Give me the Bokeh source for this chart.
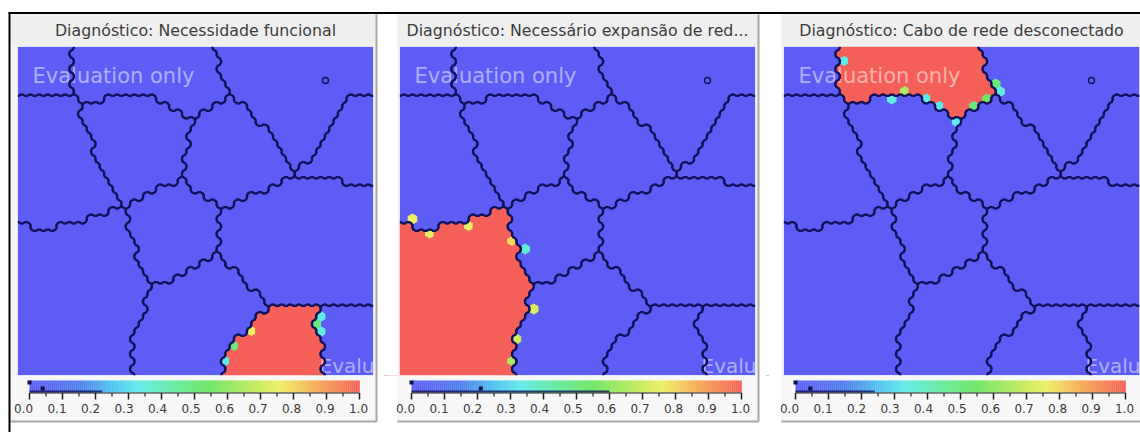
import numpy as np
from bokeh.plotting import figure
from bokeh.models import Range1d
from bokeh.core.properties import value
from bokeh.embed import file_html
from bokeh.resources import INLINE

# ---------------- data ----------------
titles = ["Diagnóstico: Necessidade funcional",
          "Diagnóstico: Necessário expansão de red...",
          "Diagnóstico: Cabo de rede desconectado"]
tick_values = [0.0, 0.1, 0.2, 0.3, 0.4, 0.5, 0.6, 0.7, 0.8, 0.9, 1.0]
tick_labels = ["0.0", "0.1", "0.2", "0.3", "0.4", "0.5", "0.6", "0.7", "0.8", "0.9", "1.0"]
watermark_top = "Evaluation only"
watermark_bottom = "Evalu"

# cluster map (map units, 356 x 329 map, y downward)
map_vertices = {
    "tl": (-12, -12), "tr": (368, -12), "bl": (-12, 341), "br": (368, 341),
    "t1": (56, -12), "v1a": (56, 51), "l1": (-12, 51), "v1b": (63, 58),
    "q1": (93, 52), "q2": (130, 48), "q3": (150, 57), "ef1": (65, 80),
    "j3": (175, 72), "j5": (214, 48), "t2": (188, -12),
    "m1": (258, 94), "j9": (280, 129), "k1": (330, 51), "r1": (368, 46), "r2": (368, 142),
    "j6": (165, 132), "j4": (105, 159), "l2": (-12, 171), "e1": (20, 182), "e2": (65, 176),
    "j7": (203, 164), "j10": (201, 209), "j8": (137, 239), "ij1": (123, 221),
    "k2": (155, 234), "k3": (228, 234),
    "i1": (130, 250), "i2": (124, 270), "i3": (117, 285), "i4": (116, 301), "b1": (113, 341),
    "j12": (250, 262), "p1": (302, 262), "r3": (368, 259),
    "l3": (216, 294), "l4": (205, 314), "b2": (204, 341),
    "p2": (297, 277), "p3": (304, 290), "b3": (309, 341),
}
cluster_names = ["A", "B", "C", "D", "E", "F", "G", "H", "I", "J", "K", "L", "M"]
cluster_outlines = {
    "A": ["tl", "t1", "v1a", "l1"],
    "B": ["t1", "t2", "j5", "j3", "q3", "q2", "q1", "v1b", "v1a"],
    "C": ["t2", "tr", "r1", "k1", "j9", "m1", "j5"],
    "D": ["k1", "r1", "r2", "j9"],
    "E": ["l1", "v1a", "v1b", "ef1", "j4", "e2", "e1", "l2"],
    "F": ["v1b", "q1", "q2", "q3", "j3", "j6", "j4", "ef1"],
    "G": ["j3", "j5", "m1", "j9", "j7", "j6"],
    "H": ["j9", "r2", "r3", "p1", "j12", "k3", "j10", "j7"],
    "I": ["l2", "e1", "e2", "j4", "ij1", "j8", "i1", "i2", "i3", "i4", "b1", "bl"],
    "J": ["j4", "j6", "j7", "j10", "k2", "j8", "ij1"],
    "K": ["j8", "k2", "j10", "k3", "j12", "l3", "l4", "b2", "b1", "i4", "i3", "i2", "i1"],
    "L": ["j12", "p1", "p2", "p3", "b3", "b2", "l4", "l3"],
    "M": ["p1", "r3", "br", "b3", "p3", "p2"],
}
# component value of each cluster, per panel
values_p1 = [0, 0, 0, 0, 0, 0, 0, 0, 0, 0, 0, 1.0, 0]
values_p2 = [0, 0, 0, 0, 0, 0, 0, 0, 1.0, 0, 0, 0, 0]
values_p3 = [0, 1.0, 0, 0, 0, 0, 0, 0, 0, 0, 0, 0, 0]
panel_values = [values_p1, values_p2, values_p3]
# individual nodes with intermediate values (map u, map v, value)
nodes_p1 = [(205, 316, 0.33), (216, 296, 0.50), (233, 287, 0.76), (303, 266, 0.33),
            (296, 276, 0.50), (305, 286, 0.35)]
nodes_p2 = [(11, 176, 0.76), (29, 187, 0.74), (69, 176, 0.74), (116, 194, 0.80),
            (123, 204, 0.36), (133, 266, 0.72), (116, 296, 0.70), (116, 316, 0.64)]
nodes_p3 = [(57, 14, 0.33), (120, 42, 0.66), (105, 54, 0.35), (139, 54, 0.35),
            (157, 64, 0.33), (174, 76, 0.33), (190, 64, 0.50), (207, 54, 0.55),
            (210, 36, 0.50), (217, 44, 0.35)]
panel_nodes = [nodes_p1, nodes_p2, nodes_p3]
hist_range = [0.22, 0.60, 0.24]
hist_mark = [0.04, 0.21, 0.045]

# ---------------- styles / layout ----------------
W, H = 1140, 432
MAP_W, MAP_H = 356, 329
MAP_LEFT = [17, 399, 783]
MAP_TOP = 46
R = 5.0
cmap_pos = [0.0, 0.15, 0.25, 0.33, 0.45, 0.55, 0.68, 0.76, 0.86, 1.0]
cmap_rgb = [(93, 93, 246), (80, 125, 236), (80, 195, 240), (95, 235, 235), (100, 235, 150),
            (110, 230, 100), (190, 235, 90), (240, 240, 100), (245, 175, 85), (245, 96, 88)]
BLUE = "#5d5df6"
LINE = "#12125a"
FONT = "DejaVu Sans"

cr = np.array(cmap_rgb, float)
pal_t = np.linspace(0, 1, 256)
palette = ["#%02x%02x%02x" % tuple(int(round(np.interp(t, cmap_pos, cr[:, c]))) for c in range(3))
           for t in pal_t]


def color_of(v):
    return palette[int(round(min(max(v, 0), 1) * 255))]


def inside(px, py, poly):
    x = np.array([q[0] for q in poly], float)
    y = np.array([q[1] for q in poly], float)
    n = len(poly)
    res = np.zeros(px.shape, bool)
    j = n - 1
    for i in range(n):
        xi, yi, xj, yj = x[i], y[i], x[j], y[j]
        if yi != yj:
            cond = ((yi > py) != (yj > py)) & (px < (xj - xi) * (py - yi) / (yj - yi) + xi)
            res ^= cond
        j = i
    return res


# hex lattice of map nodes
DX = np.sqrt(3) * R
DY = 1.5 * R
ii = np.arange(-1, int(MAP_W / DX) + 3)
jj = np.arange(-1, int(MAP_H / DY) + 3)
I, J = np.meshgrid(ii, jj)
U = (I + 0.5 * (J % 2)) * DX
V = J * DY
labels = np.full(U.shape, -1)
for k, name in enumerate(cluster_names):
    poly = [map_vertices[n] for n in cluster_outlines[name]]
    m = inside(U, V, poly) & (labels == -1)
    labels[m] = k
for a, b in np.argwhere(labels == -1):
    d = (U - U[a, b]) ** 2 + (V - V[a, b]) ** 2
    d[labels == -1] = np.inf
    labels[a, b] = labels.flat[np.argmin(d)]

HX = R * np.cos(np.radians(30 + 60 * np.arange(6)))
HY = R * np.sin(np.radians(30 + 60 * np.arange(6)))
nj, ni = labels.shape
segs = []
for a in range(nj):
    for b in range(ni):
        lab = labels[a, b]
        u, v = U[a, b], V[a, b]
        if b + 1 < ni and labels[a, b + 1] != lab:
            segs.append((u + HX[5], v + HY[5], u + HX[0], v + HY[0]))
        if a + 1 < nj:
            odd = J[a, b] % 2 == 1
            brn = b + 1 if odd else b
            bln = b if odd else b - 1
            if brn < ni and labels[a + 1, brn] != lab:
                segs.append((u + HX[0], v + HY[0], u + HX[1], v + HY[1]))
            if bln >= 0 and labels[a + 1, bln] != lab:
                segs.append((u + HX[1], v + HY[1], u + HX[2], v + HY[2]))

# corner-cut (Chaikin) smoothing of the border edges
def key(x, y):
    return (int(round(x * 100)), int(round(y * 100)))


adj = {}
for s, (x0, y0, x1, y1) in enumerate(segs):
    adj.setdefault(key(x0, y0), []).append((s, 0))
    adj.setdefault(key(x1, y1), []).append((s, 1))
smooth = []
for (x0, y0, x1, y1) in segs:
    smooth.append((x0 + 0.25 * (x1 - x0), y0 + 0.25 * (y1 - y0),
                   x0 + 0.75 * (x1 - x0), y0 + 0.75 * (y1 - y0)))


def quarter(s, e):
    x0, y0, x1, y1 = segs[s]
    t = 0.25 if e == 0 else 0.75
    return (x0 + t * (x1 - x0), y0 + t * (y1 - y0))


for kk, lst in adj.items():
    vx, vy = kk[0] / 100.0, kk[1] / 100.0
    pts = [quarter(s, e) for s, e in lst]
    if len(pts) == 2:
        smooth.append((pts[0][0], pts[0][1], pts[1][0], pts[1][1]))
    else:
        for q in pts:
            smooth.append((q[0], q[1], vx, vy))
segs = np.array(smooth)

# ---------------- figure ----------------
p = figure(width=W, height=H, x_range=Range1d(0, W), y_range=Range1d(H, 0),
           output_backend="svg", toolbar_location=None, min_border=0,
           x_axis_type=None, y_axis_type=None)
p.grid.visible = False
p.outline_line_color = None
p.background_fill_color = "white"
p.border_fill_color = "white"

for k in range(3):
    X0 = MAP_LEFT[k]
    p.quad(left=X0, right=X0 + MAP_W, top=MAP_TOP, bottom=MAP_TOP + MAP_H,
           fill_color=BLUE, line_color=None)
    vals = np.array(panel_values[k], float)[labels]
    for (nu, nv, nval) in panel_nodes[k]:
        d = (U - nu) ** 2 + (V - nv) ** 2
        a, b = np.unravel_index(np.argmin(d), d.shape)
        vals[a, b] = nval
    sel = np.argwhere(vals > 0.02)
    xs = [list(X0 + U[a, b] + HX) for a, b in sel]
    ys = [list(MAP_TOP + V[a, b] + HY) for a, b in sel]
    cols = [color_of(vals[a, b]) for a, b in sel]
    if xs:
        p.patches(xs=xs, ys=ys, fill_color=cols, line_color=cols, line_width=1)
    # watermarks
    p.text(x=[X0 + 15], y=[MAP_TOP + 29], text=[watermark_top],
           text_font=value(FONT), text_font_size=value("21px"), text_color="white",
           text_alpha=0.5, text_baseline="middle", text_align="left")
    p.text(x=[X0 + 302], y=[MAP_TOP + 319], text=[watermark_bottom],
           text_font=value(FONT), text_font_size=value("20px"), text_color="white",
           text_alpha=0.5, text_baseline="middle", text_align="left")
    # cluster borders
    p.segment(x0=X0 + segs[:, 0], y0=MAP_TOP + segs[:, 1], x1=X0 + segs[:, 2], y1=MAP_TOP + segs[:, 3],
              line_color=LINE, line_width=2.3, line_cap="round")
    p.scatter(x=[X0 + 308], y=[MAP_TOP + 34], marker="circle", size=6, fill_color=None,
              line_color=LINE, line_width=1.4)

# masks around the maps
p.quad(left=[0, 0], right=[W, W], top=[0, MAP_TOP + MAP_H], bottom=[MAP_TOP, H],
       fill_color="white", line_color=None)
gaps_l = [0, MAP_LEFT[0] + MAP_W, MAP_LEFT[1] + MAP_W]
gaps_r = [MAP_LEFT[0], MAP_LEFT[1], MAP_LEFT[2]]
p.quad(left=gaps_l, right=gaps_r, top=MAP_TOP, bottom=MAP_TOP + MAP_H, fill_color="white", line_color=None)

PANEL_L = [10, MAP_LEFT[1] - 2, MAP_LEFT[2] - 2]
for k in range(3):
    X0 = MAP_LEFT[k]
    L = PANEL_L[k]
    Rr = X0 + MAP_W + 3
    # title band
    p.quad(left=L, right=Rr, top=14, bottom=MAP_TOP, fill_color="#efefef", line_color=None)
    # side strips and bottom area
    p.quad(left=[L, X0 + MAP_W], right=[X0, Rr], top=MAP_TOP, bottom=MAP_TOP + MAP_H,
           fill_color="#f4f4f4", line_color=None)
    p.quad(left=L, right=Rr, top=MAP_TOP + MAP_H, bottom=421, fill_color="#f7f7f7", line_color=None)
    # borders
    p.segment(x0=[Rr, L], y0=[14, 421], x1=[Rr, Rr], y1=[421, 421], line_color="#a8a8a8", line_width=2)
    p.text(x=[X0 + MAP_W / 2], y=[30], text=[titles[k]], text_font=value(FONT),
           text_font_size=value("15.8px"), text_color="#3c3c3c", text_align="center",
           text_baseline="middle")
    # colour bar
    b0, b1 = X0 + 12, X0 + 342
    n = 165
    edges = np.linspace(b0, b1, n + 1)
    p.quad(left=edges[:-1], right=edges[1:] + 0.3, top=380, bottom=392,
           fill_color=[color_of((q + 0.5) / n) for q in range(n)], line_color=None)
    p.segment(x0=[b0], y0=[391], x1=[b0 + hist_range[k] * (b1 - b0)], y1=[391],
              line_color=LINE, line_width=2, line_alpha=0.8)
    p.scatter(x=[b0, b0 + hist_mark[k] * (b1 - b0)], y=[382, 388], marker="square", size=4,
              fill_color="#101040", line_color=None)
    p.segment(x0=[b0], y0=[392.5], x1=[b1], y1=[392.5], line_color="#222222", line_width=1)
    tv = np.array(tick_values)
    tx = b0 + tv * (b1 - b0)
    p.segment(x0=tx, y0=392.5, x1=tx, y1=399, line_color="#222222", line_width=1.5)
    mx = b0 + (tv[:-1] + 0.05) * (b1 - b0)
    p.segment(x0=mx, y0=392.5, x1=mx, y1=396, line_color="#222222", line_width=1.2)
    lx = (X0 + 6) + tv * 335
    p.text(x=lx, y=408, text=tick_labels, text_font=value(FONT), text_font_size=value("12px"),
           text_color="#3a3a3a", text_align="center", text_baseline="middle")

# outer black frame
p.segment(x0=[8, 9], y0=[12.5, 12], x1=[W, 9], y1=[12.5, H], line_color="black", line_width=2)

open("out.html", "w").write(file_html(p, INLINE))
